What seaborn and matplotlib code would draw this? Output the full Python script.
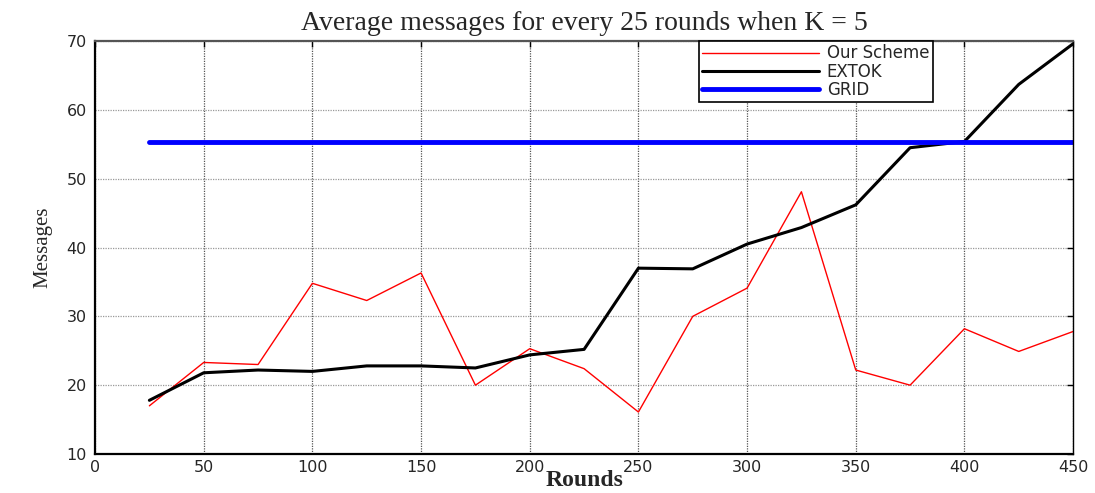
import matplotlib
matplotlib.use("Agg")
import matplotlib.pyplot as plt
import seaborn as sns
import pandas as pd

rounds = [25, 50, 75, 100, 125, 150, 175, 200, 225, 250, 275, 300, 325, 350, 375, 400, 425, 450]
our_scheme = [17.0, 23.3, 23.0, 34.8, 32.3, 36.3, 20.0, 25.3, 22.4, 16.1, 30.0, 34.1, 48.1, 22.2, 20.0, 28.2, 24.9, 27.8]
extok = [17.8, 21.8, 22.2, 22.0, 22.8, 22.8, 22.5, 24.4, 25.2, 37.0, 36.9, 40.5, 42.9, 46.2, 54.5, 55.4, 63.7, 69.6]
grid_vals = [55.3, 55.3, 55.3, 55.3, 55.3, 55.3, 55.3, 55.3, 55.3, 55.3, 55.3, 55.3, 55.3, 55.3, 55.3, 55.3, 55.3, 55.3]
x_ticks = [0, 50, 100, 150, 200, 250, 300, 350, 400, 450]
y_ticks = [10, 20, 30, 40, 50, 60, 70]

sns.set_style("white")
plt.rcParams['font.family'] = ['DejaVu Sans']

fig = plt.figure(figsize=(10.95, 4.93), dpi=100)
ax = fig.add_axes([0.0868, 0.0791, 0.8932, 0.8377])

df = pd.DataFrame({"Rounds": rounds, "Our Scheme": our_scheme, "EXTOK": extok, "GRID": grid_vals})

sns.lineplot(data=df, x="Rounds", y="Our Scheme", ax=ax, color="#ff0000", linewidth=1.0, label="Our Scheme")
sns.lineplot(data=df, x="Rounds", y="EXTOK", ax=ax, color="black", linewidth=2.2, label="EXTOK")
sns.lineplot(data=df, x="Rounds", y="GRID", ax=ax, color="#0000ff", linewidth=3.5, label="GRID")

ax.set_xlim(0, 450)
ax.set_ylim(10, 70)
ax.set_xticks(x_ticks)
ax.set_yticks(y_ticks)
ax.set_xticklabels([str(v) for v in x_ticks], fontsize=11.5)
ax.set_yticklabels([str(v) for v in y_ticks], fontsize=11.5)

ax.xaxis.grid(True, color="#555555", linestyle=(0, (1, 1)), linewidth=0.9)
ax.yaxis.grid(True, color="#999999", linestyle=(0, (1, 1)), linewidth=0.9)
ax.set_axisbelow(True)

ax.tick_params(direction="in", length=4, width=1, top=True, right=True, color="black")
ax.tick_params(axis="x", pad=4)
ax.tick_params(axis="y", pad=6)
for side in ["left", "bottom"]:
    ax.spines[side].set_color("black")
    ax.spines[side].set_linewidth(1.6)
ax.spines["right"].set_color("black")
ax.spines["right"].set_linewidth(1.0)
ax.spines["top"].set_color("#555555")
ax.spines["top"].set_linewidth(1.6)

ax.set_title("Average messages for every 25 rounds when K = 5", fontsize=20,
             family=["Liberation Serif", "DejaVu Serif"], pad=8)
ax.set_xlabel("Rounds", fontsize=17, fontweight="bold",
              family=["Liberation Serif", "DejaVu Serif"], labelpad=-3)
ax.set_ylabel("Messages", fontsize=15, family=["Liberation Serif", "DejaVu Serif"], labelpad=10)

leg = ax.legend(loc="upper left", bbox_to_anchor=(0.617, 1.0), fontsize=12,
                frameon=True, fancybox=False, framealpha=1, edgecolor="black",
                borderpad=0.2, labelspacing=0.02, handlelength=7.0, handletextpad=0.5,
                borderaxespad=0)
leg.get_frame().set_linewidth(1.2)

fig.savefig("out.png", dpi=100)
